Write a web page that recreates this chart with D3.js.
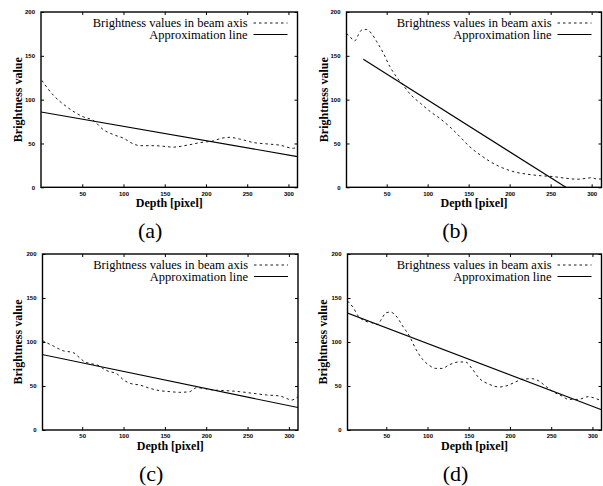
<!DOCTYPE html>
<html>
<head>
<meta charset="utf-8">
<script src="https://cdn.jsdelivr.net/npm/d3@7"></script>
<style>
  body { margin: 0; background: #fff; }
  svg { display: block; }
  .serif { font-family: "Liberation Serif", "DejaVu Serif", "Times New Roman", Times, serif; }
</style>
</head>
<body>
<svg width="603" height="486"></svg>
<script>
// depth / brightness readings for each panel (dashed curve)
let depthA = [1, 15, 31, 51, 63, 76, 88, 100, 112, 120, 136, 152, 160, 177, 193, 209, 219, 229, 241, 258, 274, 290, 306, 311];
let brightA = [122, 105, 92, 80.5, 76.5, 65.5, 60, 56, 49.5, 47.5, 47.5, 46.5, 45.8, 48, 51, 53, 56, 57, 55, 51, 49.5, 48, 44.5, 45.5];

let depthB = [1, 5, 11, 15.5, 19.5, 25.5, 31.5, 38, 46, 54, 62, 70, 80, 91, 103, 115, 127, 139, 151, 164, 176, 188, 204, 221, 237, 253, 269, 282, 294, 300, 306, 312];
let brightB = [175.5, 172, 167, 174, 179.5, 180, 175.5, 166, 153, 137.5, 126, 116.5, 105, 96, 86.5, 78.5, 69, 58, 46.5, 37, 29.5, 23.5, 18, 15, 13.3, 12.2, 10.3, 9.2, 10.3, 11, 9.5, 9.5];

let depthC = [2, 15, 27, 39, 47, 53, 63, 71, 75, 83, 91, 100, 108, 120, 132, 144, 156, 168, 180, 188, 196, 208, 224, 240, 256, 273, 289, 297, 303, 311];
let brightC = [101.5, 95.5, 90, 88, 82, 77.5, 75, 72.7, 70, 66.3, 64.4, 57, 53, 51, 47.3, 44.7, 43.6, 42.8, 43.6, 48, 47.3, 45.5, 44.7, 43.6, 41.7, 39.8, 38.6, 36, 34, 38];

let depthD = [3, 10, 16, 24, 32, 40, 44, 50, 55, 62, 70, 78, 86, 94, 102, 110, 118, 126, 138, 146, 154, 162, 175, 187, 195, 205, 215, 227, 235, 243, 251, 263, 271, 283, 295, 301, 309];
let brightD = [146.5, 139, 129.5, 124, 122, 120, 125.8, 133.3, 134, 129.5, 118, 106.8, 91.7, 80.3, 73.5, 70, 70, 73.9, 77.3, 77.3, 69.7, 59.5, 51.9, 48.9, 50, 53.8, 57.6, 58.3, 55.7, 50, 44.3, 38.6, 34.8, 34.8, 37.9, 36.7, 34];

// approximation lines: [start depth, start value], [end depth, end value]
let lineA = [[0, 86], [311, 35]];
let lineB = [[21.5, 146], [268.5, 0]];
let lineC = [[0, 86], [311, 25.5]];
let lineD = [[0, 134], [311, 23]];

let xTicks = [50, 100, 150, 200, 250, 300];
let yTicks = [0, 50, 100, 150, 200];
let captions = ['(a)', '(b)', '(c)', '(d)'];

let legendLabels = ['Brightness values in beam axis', 'Approximation line'];

let panels = [
    { left: 41, right: 297.5, top: 12, bottom: 187.3, dom: [0, 311], ylx: 22, depth: depthA, bright: brightA, line: lineA, cap: captions[0] },
    { left: 346.5, right: 601.5, top: 12, bottom: 187.3, dom: [1, 312], ylx: 328, depth: depthB, bright: brightB, line: lineB, cap: captions[1] },
    { left: 42.5, right: 298, top: 254, bottom: 430, dom: [2, 311], ylx: 22, depth: depthC, bright: brightC, line: lineC, cap: captions[2] },
    { left: 347.5, right: 601.5, top: 254, bottom: 430, dom: [3, 311], ylx: 327, depth: depthD, bright: brightD, line: lineD, cap: captions[3] }
];

let svg = d3.select('svg');

panels.forEach(function (p) {
    let xScale = d3.scaleLinear().domain(p.dom).range([p.left, p.right]);
    let yScale = d3.scaleLinear().domain([0, 200]).range([p.bottom, p.top]);
    let g = svg.append('g');

    // clip for curves
    let clipId = 'clip' + p.cap.replace(/[()]/g, '');
    svg.append('clipPath').attr('id', clipId)
        .append('rect')
        .attr('x', p.left).attr('y', p.top)
        .attr('width', p.right - p.left).attr('height', p.bottom - p.top);

    // ticks, gnuplot style: inward and mirrored
    let xAxis = g.append('g')
        .attr('transform', `translate(0, ${p.bottom})`)
        .call(d3.axisBottom(xScale).tickValues(xTicks).tickSizeInner(-3).tickSizeOuter(0).tickPadding(4));
    let xAxisTop = g.append('g')
        .attr('transform', `translate(0, ${p.top})`)
        .call(d3.axisTop(xScale).tickValues(xTicks).tickSizeInner(-3).tickSizeOuter(0).tickFormat(''));
    let yAxis = g.append('g')
        .attr('transform', `translate(${p.left}, 0)`)
        .call(d3.axisLeft(yScale).tickValues(yTicks).tickSizeInner(-3).tickSizeOuter(0).tickPadding(6));
    let yAxisRight = g.append('g')
        .attr('transform', `translate(${p.right}, 0)`)
        .call(d3.axisRight(yScale).tickValues(yTicks).tickSizeInner(-3).tickSizeOuter(0).tickFormat(''));

    [xAxis, xAxisTop, yAxis, yAxisRight].forEach(function (a) {
        a.select('.domain').remove();
        a.selectAll('line').attr('stroke', '#000').attr('stroke-width', 1);
        a.selectAll('text')
            .style('font-family', '"Liberation Sans", Arial, sans-serif')
            .style('font-weight', 'bold')
            .style('font-size', '6px')
            .attr('fill', '#000');
    });

    // curves
    let pts = p.depth.map((d, i) => [d, p.bright[i]]);
    let lineGen = d3.line()
        .x((d) => xScale(d[0]))
        .y((d) => yScale(d[1]))
        .curve(d3.curveMonotoneX);

    g.append('path')
        .attr('d', lineGen(pts))
        .attr('clip-path', `url(#${clipId})`)
        .attr('fill', 'none')
        .attr('stroke', '#000')
        .attr('stroke-width', 0.9)
        .attr('stroke-dasharray', '2.5,3');

    g.append('path')
        .attr('d', d3.line().x((d) => xScale(d[0])).y((d) => yScale(d[1]))(p.line))
        .attr('clip-path', `url(#${clipId})`)
        .attr('fill', 'none')
        .attr('stroke', '#000')
        .attr('stroke-width', 1.1);

    // frame
    g.append('rect')
        .attr('x', p.left).attr('y', p.top)
        .attr('width', p.right - p.left).attr('height', p.bottom - p.top)
        .attr('fill', 'none')
        .attr('stroke', '#000')
        .attr('stroke-width', 1.4);

    // legend
    let legend = g.append('g');
    legendLabels.forEach(function (lab, i) {
        let ly = p.top + 11 + i * 11.5;
        legend.append('text')
            .attr('class', 'serif')
            .attr('x', p.right - 50)
            .attr('y', ly + 4)
            .attr('text-anchor', 'end')
            .style('font-size', '12.5px')
            .text(lab);
        legend.append('line')
            .attr('x1', p.right - 44).attr('x2', p.right - 10)
            .attr('y1', ly).attr('y2', ly)
            .attr('stroke', '#000')
            .attr('stroke-width', i === 0 ? 0.9 : 1.1)
            .attr('stroke-dasharray', i === 0 ? '2.5,3' : null);
    });

    // axis labels
    g.append('text')
        .attr('class', 'serif')
        .attr('x', (p.left + p.right) / 2)
        .attr('y', p.bottom + 19.5)
        .attr('text-anchor', 'middle')
        .style('font-weight', 'bold')
        .style('font-size', '12px')
        .text('Depth [pixel]');

    g.append('text')
        .attr('class', 'serif')
        .attr('transform', `translate(${p.ylx}, ${(p.top + p.bottom) / 2}) rotate(-90)`)
        .attr('text-anchor', 'middle')
        .style('font-weight', 'bold')
        .style('font-size', '12px')
        .text('Brightness value');

    // caption
    g.append('text')
        .attr('class', 'serif')
        .attr('x', (p.left + p.right) / 2 - 19)
        .attr('y', p.bottom + 51)
        .attr('text-anchor', 'middle')
        .style('font-size', '22px')
        .text(p.cap);
});
</script>
</body>
</html>
